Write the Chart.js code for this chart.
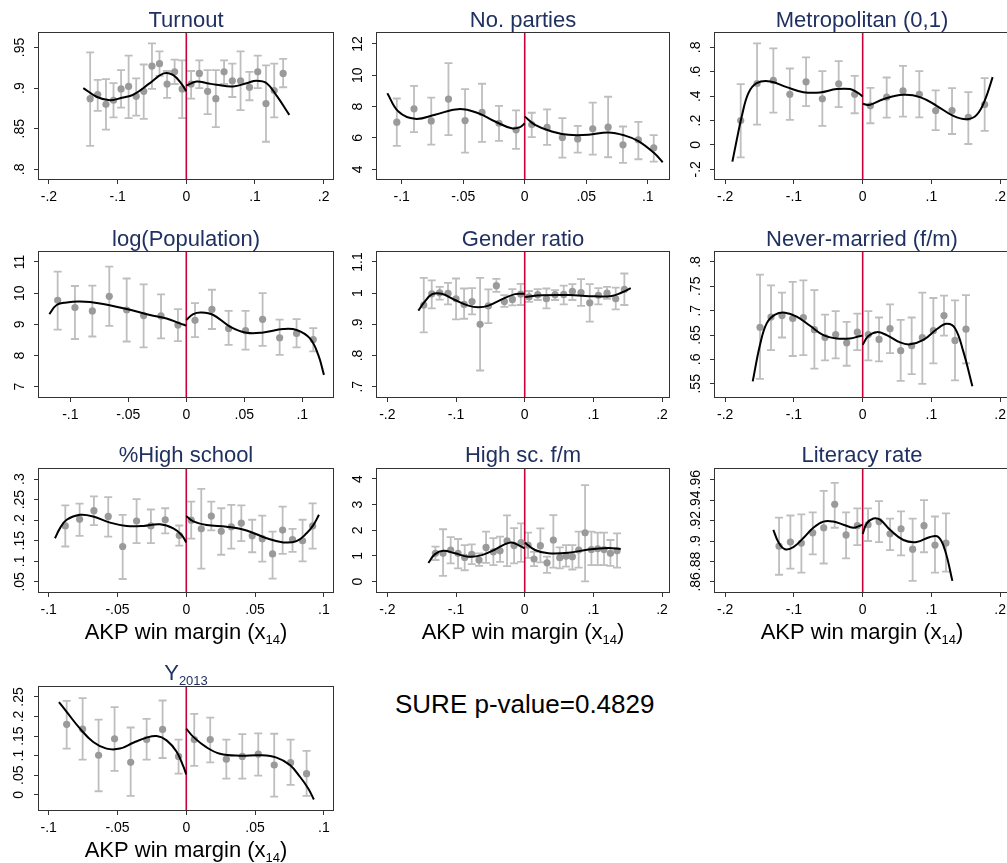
<!DOCTYPE html>
<html>
<head>
<meta charset="utf-8">
<script src="https://cdn.jsdelivr.net/npm/chart.js@4.4.0/dist/chart.umd.min.js"></script>
<style>
html, body { margin: 0; padding: 0; background: #fff; overflow: hidden; }
#wrap { position: relative; width: 1007px; height: 863px; overflow: hidden; background: #fff; }
#wrap canvas { position: absolute; }
#sure { position: absolute; left: 395px; top: 691px; font: 26px/26px "Liberation Sans", Arial, sans-serif; color: #000; white-space: nowrap; }
</style>
</head>
<body>
<div id="wrap"><div id="sure">SURE p-value=0.4829</div></div>
<script>
// x tick sets
const xTicksWide = [-0.2, -0.1, 0, 0.1, 0.2];
const xTicksNarrow = [-0.1, -0.05, 0, 0.05, 0.1];

// points are [x, mean, ci low, ci high]; fits are [x, y]
const turnoutYTicks = [0.8, 0.85, 0.9, 0.95];
const turnoutPts = [
  [-0.140,0.887,0.829,0.944],[-0.129,0.892,0.872,0.910],[-0.117,0.880,0.849,0.911],[-0.106,0.885,0.864,0.906],
  [-0.095,0.899,0.876,0.922],[-0.084,0.902,0.863,0.940],[-0.073,0.890,0.866,0.912],[-0.062,0.896,0.862,0.929],
  [-0.050,0.927,0.899,0.955],[-0.039,0.930,0.915,0.945],[-0.028,0.905,0.888,0.921],[-0.017,0.920,0.905,0.935],
  [-0.006,0.899,0.863,0.934],[0.007,0.905,0.887,0.921],[0.019,0.918,0.900,0.934],[0.031,0.896,0.868,0.922],
  [0.043,0.887,0.852,0.922],[0.055,0.920,0.905,0.934],[0.067,0.909,0.889,0.930],[0.079,0.909,0.873,0.945],
  [0.092,0.901,0.885,0.920],[0.104,0.920,0.900,0.940],[0.116,0.881,0.834,0.928],[0.128,0.897,0.864,0.930],
  [0.141,0.918,0.901,0.936]];
const turnoutFitLeft = [[-0.150,0.900],[-0.130,0.889],[-0.111,0.885],[-0.094,0.888],[-0.077,0.892],[-0.053,0.906],
  [-0.033,0.918],[-0.019,0.916],[-0.007,0.905],[0,0.896]];
const turnoutFitRight = [[0,0.903],[0.015,0.908],[0.030,0.906],[0.044,0.904],[0.068,0.902],[0.088,0.906],
  [0.102,0.909],[0.117,0.906],[0.132,0.890],[0.150,0.867]];

const partiesYTicks = [4, 6, 8, 10, 12];
const partiesPts = [
  [-0.104,7.01,5.49,8.52],[-0.090,7.86,6.37,9.33],[-0.076,7.09,5.58,8.57],[-0.062,8.48,6.18,10.78],
  [-0.0485,7.11,5.07,9.12],[-0.0347,7.63,5.75,9.46],[-0.0209,6.94,5.81,8.05],[-0.0070,6.52,5.30,7.76],
  [0.0057,6.86,6.05,7.61],[0.0182,6.67,5.56,7.82],[0.0306,6.03,4.75,7.26],[0.0431,5.94,5.07,6.77],
  [0.0553,6.58,4.94,8.25],[0.0678,6.69,4.77,8.63],[0.0799,5.56,4.41,6.73],[0.0924,5.88,4.64,7.03],
  [0.1049,5.37,4.49,6.18]];
const partiesFitLeft = [[-0.1117,8.86],[-0.1027,7.69],[-0.0892,7.22],[-0.0729,7.48],[-0.0539,7.84],[-0.0377,7.58],
  [-0.0241,7.05],[-0.0106,6.62],[-0.0038,6.69],[0,6.94]];
const partiesFitRight = [[0,7.37],[0.0084,6.84],[0.022,6.41],[0.0355,6.20],[0.0518,6.20],[0.068,6.35],
  [0.0816,6.15],[0.0924,5.80],[0.105,5.05],[0.1122,4.45]];

const metroYTicks = [-0.2, 0, 0.2, 0.4, 0.6, 0.8];
const metroPts = [
  [-0.1775,0.200,-0.101,0.499],[-0.1537,0.504,0.167,0.833],[-0.130,0.529,0.266,0.792],[-0.106,0.416,0.205,0.627],
  [-0.0824,0.518,0.318,0.718],[-0.0587,0.378,0.156,0.605],[-0.0349,0.501,0.310,0.688],[-0.0116,0.416,0.260,0.567],
  [0.0112,0.321,0.178,0.468],[0.0349,0.392,0.225,0.553],[0.0587,0.444,0.233,0.649],[0.0824,0.416,0.227,0.605],
  [0.1062,0.282,0.121,0.447],[0.130,0.282,0.090,0.466],[0.1537,0.227,0.008,0.433],[0.1775,0.332,0.115,0.548]];
const metroFitLeft = [[-0.1896,-0.137],[-0.1833,0.041],[-0.176,0.233],[-0.1663,0.425],[-0.1542,0.507],[-0.1348,0.521],
  [-0.1106,0.474],[-0.0863,0.433],[-0.0621,0.430],[-0.0378,0.458],[-0.0184,0.458],[-0.0063,0.425],[0,0.397]];
const metroFitRight = [[0,0.337],[0.0107,0.329],[0.0301,0.375],[0.0592,0.411],[0.0834,0.392],[0.1077,0.321],
  [0.1319,0.238],[0.1513,0.211],[0.1659,0.247],[0.178,0.370],[0.1891,0.556]];

const popYTicks = [7, 8, 9, 10, 11];
const popPts = [
  [-0.1109,9.77,8.83,10.69],[-0.096,9.54,8.53,10.23],[-0.081,9.43,8.61,10.24],[-0.0664,9.90,8.95,10.85],
  [-0.0514,9.46,8.45,10.47],[-0.0368,9.28,8.26,10.28],[-0.0218,9.27,8.55,9.96],[-0.0072,8.98,8.46,9.49],
  [0.0075,9.13,8.59,9.68],[0.0221,9.48,8.85,10.11],[0.0365,8.87,8.34,9.43],[0.0511,8.80,8.19,9.43],
  [0.0658,9.16,8.31,10.0],[0.0805,8.57,8.02,9.15],[0.0951,8.71,8.26,9.17],[0.1095,8.51,8.13,8.88]];
const popFitLeft = [[-0.1181,9.33],[-0.1118,9.62],[-0.1032,9.70],[-0.0917,9.73],[-0.0744,9.67],[-0.0514,9.49],
  [-0.0313,9.30],[-0.017,9.19],[-0.0055,9.03],[0,8.96]];
const popFitRight = [[0,9.14],[0.006,9.33],[0.0132,9.38],[0.0233,9.30],[0.0376,8.93],[0.052,8.73],[0.0664,8.74],
  [0.0836,8.85],[0.0951,8.82],[0.1066,8.55],[0.1138,8.02],[0.1187,7.38]];

const genderYTicks = [0.7, 0.8, 0.9, 1, 1.1];
const genderPts = [
  [-0.147,0.962,0.874,1.049],[-0.1354,0.998,0.951,1.041],[-0.1238,1.001,0.979,1.020],[-0.1117,0.999,0.964,1.033],
  [-0.100,0.982,0.916,1.047],[-0.0883,0.964,0.918,1.015],[-0.0767,0.973,0.932,1.016],[-0.065,0.900,0.752,1.049],
  [-0.0529,0.959,0.904,1.012],[-0.0413,1.024,1.004,1.046],[-0.0296,0.973,0.956,0.994],[-0.018,0.980,0.961,1.013],
  [-0.0058,0.997,0.962,1.030],[0.0063,0.988,0.972,1.007],[0.0189,0.995,0.978,1.013],[0.0316,0.982,0.951,1.015],
  [0.0442,0.995,0.978,1.010],[0.0568,0.996,0.964,1.024],[0.0694,1.006,0.978,1.029],[0.082,1.002,0.959,1.045],
  [0.0947,0.969,0.909,1.029],[0.1073,0.993,0.964,1.016],[0.1199,1.000,0.982,1.020],[0.1325,0.982,0.948,1.018],
  [0.1451,1.012,0.962,1.063]];
const genderFitLeft = [[-0.1549,0.944],[-0.1476,0.967],[-0.1354,0.996],[-0.1209,0.998],[-0.1015,0.978],[-0.082,0.960],
  [-0.0675,0.955],[-0.0529,0.960],[-0.0335,0.980],[-0.0141,0.997],[0,0.998]];
const genderFitRight = [[0,0.988],[0.0248,0.993],[0.0636,0.994],[0.1024,0.990],[0.1267,0.991],[0.1413,1.002],[0.1544,1.016]];

const neverYTicks = [0.55, 0.6, 0.65, 0.7, 0.75, 0.8];
const neverPts = [
  [-0.1494,0.666,0.560,0.774],[-0.1334,0.687,0.619,0.752],[-0.1174,0.690,0.645,0.737],[-0.1018,0.684,0.607,0.759],
  [-0.0863,0.686,0.609,0.762],[-0.0703,0.661,0.581,0.742],[-0.0548,0.645,0.598,0.692],[-0.0393,0.651,0.602,0.699],
  [-0.0233,0.634,0.587,0.677],[-0.0078,0.656,0.619,0.694],[0.0082,0.651,0.598,0.699],[0.0238,0.641,0.596,0.686],
  [0.0398,0.663,0.613,0.713],[0.0553,0.618,0.556,0.681],[0.0713,0.628,0.570,0.686],[0.0868,0.645,0.550,0.737],
  [0.1028,0.659,0.592,0.726],[0.1183,0.690,0.649,0.731],[0.1343,0.639,0.557,0.721],[0.1503,0.662,0.592,0.732]];
const neverFitLeft = [[-0.160,0.555],[-0.1494,0.630],[-0.1397,0.674],[-0.1275,0.692],[-0.113,0.696],[-0.096,0.688],
  [-0.0766,0.669],[-0.0572,0.650],[-0.0378,0.643],[-0.0184,0.643],[-0.0063,0.647],[0,0.649]];
const neverFitRight = [[0,0.630],[0.0082,0.648],[0.0204,0.656],[0.0349,0.650],[0.0543,0.635],[0.0689,0.631],
  [0.0883,0.640],[0.1077,0.662],[0.1222,0.673],[0.1343,0.664],[0.1465,0.616],[0.1596,0.545]];

const hsYTicks = [0.05, 0.1, 0.15, 0.2, 0.25, 0.3];
const hsPts = [
  [-0.0879,0.186,0.136,0.236],[-0.0775,0.202,0.162,0.240],[-0.0671,0.223,0.188,0.258],[-0.0567,0.209,0.160,0.256],
  [-0.0462,0.136,0.057,0.213],[-0.0361,0.198,0.144,0.251],[-0.0257,0.186,0.144,0.226],[-0.0153,0.201,0.168,0.229],
  [-0.0051,0.163,0.138,0.187],[0.0036,0.200,0.155,0.245],[0.0109,0.179,0.082,0.276],[0.0182,0.210,0.175,0.245],
  [0.0254,0.173,0.116,0.229],[0.0327,0.184,0.131,0.237],[0.040,0.193,0.149,0.236],[0.0479,0.162,0.122,0.201],
  [0.0552,0.155,0.099,0.211],[0.0627,0.118,0.058,0.172],[0.070,0.176,0.118,0.233],[0.0772,0.153,0.123,0.179],
  [0.0845,0.150,0.100,0.201],[0.0918,0.186,0.131,0.241]];
const hsFitLeft = [[-0.0954,0.156],[-0.0918,0.180],[-0.0869,0.201],[-0.0772,0.213],[-0.0676,0.209],[-0.0554,0.194],
  [-0.0433,0.186],[-0.0312,0.186],[-0.0191,0.190],[-0.0094,0.180],[-0.0034,0.164],[0,0.146]];
const hsFitRight = [[0,0.210],[0.0051,0.197],[0.0148,0.188],[0.0293,0.184],[0.0438,0.175],[0.0584,0.156],
  [0.0705,0.146],[0.0801,0.149],[0.0874,0.168],[0.0923,0.188],[0.0964,0.213]];

const hsfmYTicks = [0, 1, 2, 3, 4];
const hsfmPts = [
  [-0.130,1.10,0.84,1.36],[-0.1189,1.10,0.22,2.04],[-0.1078,1.23,0.71,1.73],[-0.0971,1.10,0.51,1.66],
  [-0.0874,0.94,0.44,1.42],[-0.0772,1.06,0.68,1.45],[-0.0665,0.84,0.61,1.10],[-0.0563,1.33,0.73,1.95],
  [-0.0456,1.16,0.64,1.69],[-0.0359,1.20,0.77,1.75],[-0.0257,1.59,0.60,2.58],[-0.0155,1.41,0.71,2.08],
  [-0.0053,1.52,0.77,2.27],[0.0049,1.42,0.92,1.91],[0.0136,0.88,0.60,1.16],[0.0228,1.40,0.75,2.07],
  [0.0325,0.73,0.34,0.97],[0.0417,1.62,0.54,2.59],[0.051,0.93,0.51,1.33],[0.0602,0.99,0.58,1.42],
  [0.0694,0.97,0.47,1.42],[0.0786,1.23,0.54,1.95],[0.0879,1.90,0.01,3.76],[0.0971,1.25,0.64,1.95],
  [0.1063,1.28,0.64,1.91],[0.1155,1.25,0.64,1.91],[0.1248,1.10,0.61,1.62],[0.1345,1.20,0.54,1.88]];
const hsfmFitLeft = [[-0.1403,0.73],[-0.1306,1.07],[-0.1184,1.20],[-0.1015,1.10],[-0.082,0.97],[-0.0626,1.03],
  [-0.0432,1.25],[-0.0286,1.46],[-0.0189,1.52],[-0.0092,1.42],[0,1.29]];
const hsfmFitRight = [[0,1.52],[0.015,1.23],[0.0345,1.10],[0.0636,1.12],[0.0927,1.25],[0.1218,1.31],[0.1398,1.27]];

const litYTicks = [0.86, 0.88, 0.9, 0.92, 0.94, 0.96];
const litPts = [
  [-0.1217,0.895,0.867,0.923],[-0.1052,0.899,0.873,0.925],[-0.0892,0.898,0.869,0.926],[-0.0727,0.908,0.887,0.928],
  [-0.0567,0.913,0.878,0.949],[-0.0407,0.936,0.913,0.957],[-0.0242,0.906,0.883,0.928],[-0.0078,0.915,0.896,0.932],
  [0.0078,0.916,0.900,0.932],[0.0238,0.919,0.899,0.939],[0.0398,0.907,0.891,0.922],[0.0558,0.912,0.886,0.929],
  [0.0727,0.892,0.861,0.922],[0.0892,0.915,0.889,0.940],[0.1052,0.896,0.869,0.924],[0.1212,0.898,0.870,0.927]];
const litFitLeft = [[-0.130,0.911],[-0.1227,0.899],[-0.113,0.892],[-0.1009,0.894],[-0.0863,0.903],[-0.0718,0.913],
  [-0.0572,0.919],[-0.0427,0.919],[-0.0281,0.916],[-0.0136,0.913],[-0.0039,0.915],[0,0.916]];
const litFitRight = [[0,0.907],[0.0058,0.917],[0.0155,0.922],[0.0252,0.921],[0.0398,0.911],[0.0592,0.901],
  [0.0786,0.899],[0.098,0.904],[0.1101,0.904],[0.1198,0.891],[0.1305,0.861]];

const y13YTicks = [0, 0.05, 0.1, 0.15, 0.2, 0.25];
const y13Pts = [
  [-0.0869,0.180,0.118,0.240],[-0.0753,0.168,0.090,0.247],[-0.0637,0.101,0.009,0.192],[-0.0521,0.143,0.061,0.224],
  [-0.0404,0.083,-0.003,0.172],[-0.0288,0.141,0.090,0.194],[-0.0172,0.167,0.094,0.241],[-0.0056,0.098,0.054,0.141],
  [0.0058,0.141,0.074,0.207],[0.0174,0.141,0.083,0.197],[0.0291,0.091,0.041,0.141],[0.0407,0.098,0.041,0.155],
  [0.0523,0.104,0.049,0.157],[0.0639,0.076,-0.005,0.156],[0.0758,0.082,0.025,0.141],[0.0874,0.054,-0.003,0.112]];
const y13FitLeft = [[-0.0925,0.237],[-0.0869,0.212],[-0.0772,0.169],[-0.0676,0.135],[-0.0579,0.118],[-0.0482,0.118],
  [-0.0385,0.133],[-0.0288,0.146],[-0.0215,0.150],[-0.0143,0.139],[-0.007,0.110],[-0.0022,0.073],[0,0.052]];
const y13FitRight = [[0,0.169],[0.0051,0.148],[0.0148,0.121],[0.0245,0.105],[0.039,0.100],[0.0535,0.101],
  [0.0656,0.095],[0.0753,0.076],[0.0826,0.046],[0.0886,0.016],[0.0927,-0.012]];

const axisTitle = [['AKP win margin (x', 22, 0], ['14', 13, 5], [')', 22, 0]];

const panels = [
  {title: [['Turnout']], pts: turnoutPts, fitL: turnoutFitLeft, fitR: turnoutFitRight, xt: xTicksWide, yt: turnoutYTicks, xr: [-0.2145, 0.2136], yr: [0.7882, 0.9677]},
  {title: [['No. parties']], pts: partiesPts, fitL: partiesFitLeft, fitR: partiesFitRight, xt: xTicksNarrow, yt: partiesYTicks, xr: [-0.1201, 0.1173], yr: [3.38, 12.70]},
  {title: [['Metropolitan (0,1)']], pts: metroPts, fitL: metroFitLeft, fitR: metroFitRight, xt: xTicksWide, yt: metroYTicks, xr: [-0.2149, 0.2129], yr: [-0.279, 0.918]},
  {title: [['log(Population)']], pts: popPts, fitL: popFitLeft, fitR: popFitRight, xt: xTicksNarrow, yt: popYTicks, xr: [-0.127, 0.1265], yr: [6.67, 11.32]},
  {title: [['Gender ratio']], pts: genderPts, fitL: genderFitLeft, fitR: genderFitRight, xt: xTicksWide, yt: genderYTicks, xr: [-0.2151, 0.2101], yr: [0.667, 1.132]},
  {title: [['Never-married (f/m)']], pts: neverPts, fitL: neverFitLeft, fitR: neverFitRight, xt: xTicksWide, yt: neverYTicks, xr: [-0.2149, 0.2129], yr: [0.5229, 0.8204]},
  {title: [['%High school']], pts: hsPts, fitL: hsFitLeft, fitR: hsFitRight, xt: xTicksNarrow, yt: hsYTicks, xr: [-0.107, 0.1066], yr: [0.0254, 0.3244]},
  {title: [['High sc. f/m']], pts: hsfmPts, fitL: hsfmFitLeft, fitR: hsfmFitRight, xt: xTicksWide, yt: hsfmYTicks, xr: [-0.2151, 0.2101], yr: [-0.408, 4.39]},
  {title: [['Literacy rate']], pts: litPts, fitL: litFitLeft, fitR: litFitRight, xt: xTicksWide, yt: litYTicks, xr: [-0.2149, 0.2129], yr: [0.8501, 0.9705]},
  {title: [['Y', 22, 0], ['2013', 13, 5]], pts: y13Pts, fitL: y13FitLeft, fitR: y13FitRight, xt: xTicksNarrow, yt: y13YTicks, xr: [-0.107, 0.1066], yr: [-0.039, 0.2755]}
];

// plot frames in page pixels
const frames = [
  {l: 39, t: 33, r: 333, b: 179, gap: 19, tg: 6.5, axis: false},
  {l: 377, t: 33, r: 669, b: 179, gap: 19, tg: 6.5, axis: false},
  {l: 715, t: 33, r: 1009, b: 179, gap: 19, tg: 6.5, axis: false},
  {l: 39, t: 252, r: 333, b: 397, gap: 19, tg: 6.5, axis: false},
  {l: 377, t: 252, r: 669, b: 397, gap: 19, tg: 6.5, axis: false},
  {l: 715, t: 252, r: 1009, b: 397, gap: 19, tg: 6.5, axis: false},
  {l: 39, t: 469, r: 333, b: 592, gap: 18.5, tg: 7.5, axis: true},
  {l: 377, t: 469, r: 669, b: 592, gap: 18.5, tg: 7.5, axis: true},
  {l: 715, t: 469, r: 1009, b: 592, gap: 18.5, tg: 7.5, axis: true},
  {l: 39, t: 687, r: 333, b: 810, gap: 19.5, tg: 7.5, axis: true}
];

const FONT = '"Liberation Sans", Arial, sans-serif';
const PADT = 40, YW = 38, PADR = 14, TICK = 5;

function fmt(v) {
  const s = String(Math.round(v * 10000) / 10000);
  return s.replace(/^(-?)0\./, '$1.');
}

function drawSegs(ctx, segs, cx, base, color) {
  ctx.fillStyle = color;
  ctx.textBaseline = 'alphabetic';
  ctx.textAlign = 'left';
  let total = 0;
  segs.forEach(s => { ctx.font = (s[1] || 22) + 'px ' + FONT; total += ctx.measureText(s[0]).width; });
  let x = cx - total / 2;
  segs.forEach(s => {
    ctx.font = (s[1] || 22) + 'px ' + FONT;
    ctx.fillText(s[0], x, base + (s[2] || 0));
    x += ctx.measureText(s[0]).width;
  });
}

function decor(p, f) {
  return {
    id: 'decor',
    beforeDatasetsDraw(chart) {
      const {ctx, chartArea: a, scales: {x, y}} = chart;
      ctx.save();
      ctx.beginPath();
      ctx.rect(a.left, a.top, a.right - a.left, a.bottom - a.top);
      ctx.clip();
      // confidence intervals
      ctx.strokeStyle = '#bebebe';
      ctx.lineWidth = 1.8;
      p.pts.forEach(q => {
        const px = x.getPixelForValue(q[0]);
        const lo = y.getPixelForValue(q[2]);
        const hi = y.getPixelForValue(q[3]);
        ctx.beginPath();
        ctx.moveTo(px, lo); ctx.lineTo(px, hi);
        ctx.moveTo(px - 4, lo); ctx.lineTo(px + 4, lo);
        ctx.moveTo(px - 4, hi); ctx.lineTo(px + 4, hi);
        ctx.stroke();
      });
      // cutoff
      const z = x.getPixelForValue(0);
      ctx.strokeStyle = '#c8003c';
      ctx.lineWidth = 1.6;
      ctx.beginPath();
      ctx.moveTo(z, a.top); ctx.lineTo(z, a.bottom);
      ctx.stroke();
      ctx.restore();
    },
    afterDraw(chart) {
      const {ctx, chartArea: a} = chart;
      ctx.save();
      ctx.strokeStyle = '#333';
      ctx.lineWidth = 1;
      ctx.strokeRect(Math.round(a.left) - 0.5, Math.round(a.top) - 0.5,
        Math.round(a.right - a.left) + 1, Math.round(a.bottom - a.top) + 1);
      drawSegs(ctx, p.title, (a.left + a.right) / 2, a.top - f.tg, '#203060');
      if (f.axis) drawSegs(ctx, axisTitle, (a.left + a.right) / 2, a.bottom + 46.5, '#000');
      ctx.restore();
    }
  };
}

const wrap = document.getElementById('wrap');
const mctx = document.createElement('canvas').getContext('2d');
mctx.font = '14px ' + FONT;

panels.forEach((p, i) => {
  const f = frames[i];
  const xh = f.axis ? 56 : 30;
  const w = (f.r - f.l) + YW + PADR;
  const h = (f.b - f.t) + PADT + xh + 2;
  const cv = document.createElement('canvas');
  cv.width = w; cv.height = h;
  cv.style.left = (f.l - YW) + 'px';
  cv.style.top = (f.t - PADT) + 'px';
  cv.style.width = w + 'px';
  cv.style.height = h + 'px';
  wrap.appendChild(cv);

  const widest = Math.max(...p.yt.map(v => mctx.measureText(fmt(v)).width));
  const tickFont = {family: FONT, size: 14};

  new Chart(cv, {
    type: 'scatter',
    data: {
      datasets: [
        {type: 'line', data: p.fitL.map(([x, y]) => ({x, y})), borderColor: '#000', borderWidth: 2,
          pointRadius: 0, tension: 0.4, fill: false},
        {type: 'line', data: p.fitR.map(([x, y]) => ({x, y})), borderColor: '#000', borderWidth: 2,
          pointRadius: 0, tension: 0.4, fill: false},
        {data: p.pts.map(q => ({x: q[0], y: q[1]})), pointRadius: 3.6, pointBackgroundColor: '#9a9a9a',
          pointBorderWidth: 0, showLine: false}
      ]
    },
    options: {
      responsive: false,
      animation: false,
      devicePixelRatio: 1,
      events: [],
      layout: {padding: {top: PADT, left: 0, right: PADR, bottom: 2}},
      plugins: {legend: {display: false}, tooltip: {enabled: false}},
      scales: {
        x: {
          type: 'linear', min: p.xr[0], max: p.xr[1],
          afterBuildTicks: s => { s.ticks = p.xt.map(v => ({value: v})); },
          afterFit: s => { s.height = xh; },
          ticks: {callback: v => fmt(v), font: tickFont, color: '#000', padding: 5, autoSkip: false, maxRotation: 0},
          grid: {drawOnChartArea: false, drawTicks: true, tickLength: TICK, color: '#333'},
          border: {display: false}
        },
        y: {
          type: 'linear', min: p.yr[0], max: p.yr[1],
          afterBuildTicks: s => { s.ticks = p.yt.map(v => ({value: v})); },
          afterFit: s => { s.width = YW; },
          ticks: {callback: v => fmt(v), font: tickFont, color: '#000', autoSkip: false,
            minRotation: 90, maxRotation: 90, crossAlign: 'center', padding: f.gap - TICK - widest / 2},
          grid: {drawOnChartArea: false, drawTicks: true, tickLength: TICK, color: '#333'},
          border: {display: false}
        }
      }
    },
    plugins: [decor(p, f)]
  });
});
</script>
</body>
</html>
